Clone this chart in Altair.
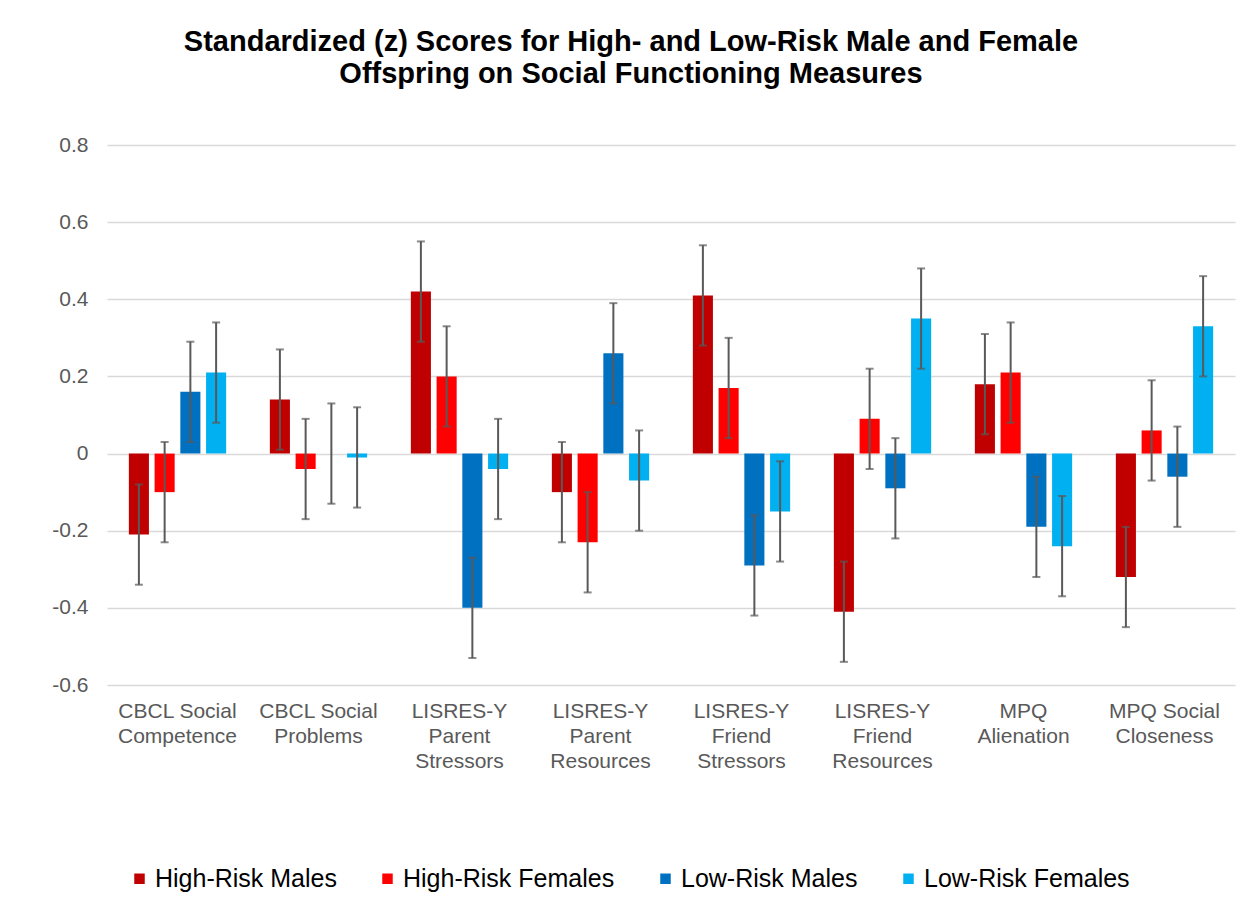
import altair as alt
import pandas as pd

categories = [
    "CBCL Social|Competence",
    "CBCL Social|Problems",
    "LISRES-Y|Parent|Stressors",
    "LISRES-Y|Parent|Resources",
    "LISRES-Y|Friend|Stressors",
    "LISRES-Y|Friend|Resources",
    "MPQ|Alienation",
    "MPQ Social|Closeness",
]
series = ["High-Risk Males", "High-Risk Females", "Low-Risk Males", "Low-Risk Females"]
colors = ["#C00000", "#FF0000", "#0070C0", "#00B0F0"]

hr_males = [-0.21, 0.14, 0.42, -0.10, 0.41, -0.41, 0.18, -0.32]
hr_females = [-0.10, -0.04, 0.20, -0.23, 0.17, 0.09, 0.21, 0.06]
lr_males = [0.16, 0.00, -0.40, 0.26, -0.29, -0.09, -0.19, -0.06]
lr_females = [0.21, -0.01, -0.04, -0.07, -0.15, 0.35, -0.24, 0.33]

err_hr_males = [0.13, 0.13, 0.13, 0.13, 0.13, 0.13, 0.13, 0.13]
err_hr_females = [0.13, 0.13, 0.13, 0.13, 0.13, 0.13, 0.13, 0.13]
err_lr_males = [0.13, 0.13, 0.13, 0.13, 0.13, 0.13, 0.13, 0.13]
err_lr_females = [0.13, 0.13, 0.13, 0.13, 0.13, 0.13, 0.13, 0.13]

y_ticks = [-0.6, -0.4, -0.2, 0, 0.2, 0.4, 0.6, 0.8]

rows = []
for s, vals, errs in zip(series,
                         [hr_males, hr_females, lr_males, lr_females],
                         [err_hr_males, err_hr_females, err_lr_males, err_lr_females]):
    for c, v, e in zip(categories, vals, errs):
        rows.append({"category": c, "series": s, "value": v, "lo": v - e, "hi": v + e})
df = pd.DataFrame(rows)

FONT = "Liberation Sans"
GRAY = "#595959"

x_enc = alt.X(
    "category:N",
    sort=categories,
    scale=alt.Scale(paddingInner=0.31, paddingOuter=0.155),
    axis=alt.Axis(
        title=None,
        labelExpr="split(datum.label, '|')",
        labelAngle=0,
        labelFont=FONT,
        labelFontSize=21,
        labelColor=GRAY,
        labelLineHeight=25,
        labelPadding=15,
        ticks=False,
        domain=False,
        grid=False,
    ),
)
xo_enc = alt.XOffset("series:N", sort=series, scale=alt.Scale(paddingInner=0.22, paddingOuter=0))
y_scale = alt.Scale(domain=[-0.6, 0.8], nice=False)

bars = alt.Chart(df).mark_bar().encode(
    x=x_enc,
    xOffset=xo_enc,
    y=alt.Y(
        "value:Q",
        scale=y_scale,
        axis=alt.Axis(
            title=None,
            values=y_ticks,
            labelExpr="datum.value == 0 ? '0' : (datum.value < 0 ? '-' + format(-datum.value, '.1f') : format(datum.value, '.1f'))",
            labelFont=FONT,
            labelFontSize=21,
            labelColor=GRAY,
            labelPadding=19,
            ticks=False,
            domain=False,
            grid=True,
            gridColor="#D9D9D9",
            gridWidth=1.5,
        ),
    ),
    color=alt.Color(
        "series:N",
        sort=series,
        scale=alt.Scale(domain=series, range=colors),
        legend=alt.Legend(
            orient="none",
            legendX=20,
            legendY=721,
            direction="horizontal",
            title=None,
            symbolType="square",
            symbolSize=110,
            symbolStrokeWidth=0,
            labelFont=FONT,
            labelFontSize=25,
            labelColor="black",
            labelOffset=3,
            labelLimit=0,
            columnPadding=38,
        ),
    ),
)

rules = alt.Chart(df).mark_rule(color=GRAY, strokeWidth=2).encode(
    x=x_enc, xOffset=xo_enc, y=alt.Y("lo:Q", scale=y_scale), y2="hi:Q"
)
caps_lo = alt.Chart(df).mark_tick(color=GRAY, thickness=2, size=8).encode(
    x=x_enc, xOffset=xo_enc, y=alt.Y("lo:Q", scale=y_scale)
)
caps_hi = alt.Chart(df).mark_tick(color=GRAY, thickness=2, size=8).encode(
    x=x_enc, xOffset=xo_enc, y=alt.Y("hi:Q", scale=y_scale)
)

chart = (
    alt.layer(bars, rules, caps_lo, caps_hi)
    .properties(
        width=1128,
        height=540,
        padding={"left": 99, "top": 137, "right": 8, "bottom": 208},
        autosize=alt.AutoSizeParams(type="none"),
        title=alt.Title(
            text=[
                "Standardized (z) Scores for High- and Low-Risk Male and Female",
                "Offspring on Social Functioning Measures",
            ],
            font=FONT,
            fontSize=29,
            fontWeight="bold",
            color="black",
            anchor="middle",
            dx=-40,
            offset=45,
            lineHeight=32,
        ),
    )
    .configure_view(stroke=None)
)

chart.save("out.html", embed_options={"renderer": "svg", "actions": False})
